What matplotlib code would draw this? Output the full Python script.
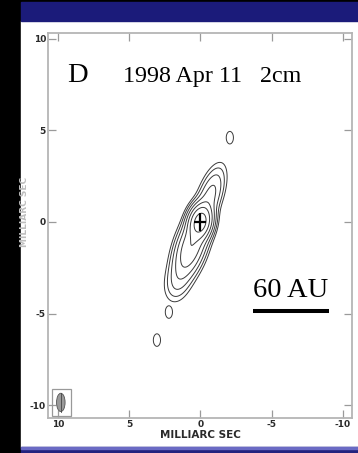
import numpy as np
import matplotlib.pyplot as plt
from matplotlib.patches import Rectangle, Ellipse

W, H = 358, 453

# jet model for the 2 cm map (offsets in mas, peaks relative to the core)
JET_PA_DEG = 26.0
COMP_X = [0.0, 0.66, 1.58, -0.66]
COMP_Y = [0.0, -1.35, -3.24, 1.35]
COMP_PEAK = [1.0, 0.35, 0.04, 0.12]
COMP_MAJ = [0.5, 1.0, 0.7, 0.95]
COMP_MIN = [0.40, 0.50, 0.50, 0.42]

# faint isolated knots
KNOT_X = [-2.07, 2.21, 3.05]
KNOT_Y = [4.59, -4.92, -6.45]
KNOT_PEAK = [0.015, 0.015, 0.015]
KNOT_SX = [0.28, 0.28, 0.28]
KNOT_SY = [0.38, 0.38, 0.38]

LEVELS = [0.01, 0.02, 0.04, 0.08, 0.16, 0.32, 0.64]
TICKS = [10, 5, 0, -5, -10]

BEAM_XY = (9.8, -9.85)
BEAM_W, BEAM_H = 0.6, 1.0
SCALE_BAR = (-3.68, -9.02, -4.86)   # x0, x1, y
SCALE_TEXT = "60 AU"


def px(x, y):
    """pixel (from top-left) -> figure fraction"""
    return x / W, 1 - y / H


fig = plt.figure(figsize=(W / 100, H / 100), dpi=100, facecolor="black")

# slide background: white panel, navy header, strip at the bottom
fig.add_artist(Rectangle(px(21, 447), (W - 21) / W, (447 - 21) / H,
                         transform=fig.transFigure, color="white", zorder=0))
fig.add_artist(Rectangle(px(21, 21), (W - 21) / W, 19 / H,
                         transform=fig.transFigure, color="#1b1b7a", zorder=0))
fig.add_artist(Rectangle(px(21, H), (W - 21) / W, 6 / H,
                         transform=fig.transFigure, color="#22227e", zorder=0))
fig.add_artist(Rectangle(px(21, 449), (W - 21) / W, 2 / H,
                         transform=fig.transFigure, color="#6a6ac4", zorder=0))

x0, y1 = px(48, 33)
x1, y0 = px(352, 418)
ax = fig.add_axes([x0, y0, x1 - x0, y1 - y0])
ax.set_facecolor("white")
ax.set_xlim(10.7, -10.65)
ax.set_ylim(-10.7, 10.3)

# brightness model
gx = np.linspace(-10.7, 10.7, 500)
gy = np.linspace(-10.7, 10.3, 500)
X, Y = np.meshgrid(gx, gy)
pa = np.deg2rad(JET_PA_DEG)
ux, uy = -np.sin(pa), np.cos(pa)
main = np.zeros_like(X)
for cx, cy, pk, smaj, smin in zip(COMP_X, COMP_Y, COMP_PEAK, COMP_MAJ, COMP_MIN):
    dx, dy = X - cx, Y - cy
    s = dx * ux + dy * uy
    t = dx * uy - dy * ux
    main += pk * np.exp(-0.5 * ((s / smaj) ** 2 + (t / smin) ** 2))
main /= main.max()
knots = np.zeros_like(X)
for cx, cy, pk, sx, sy in zip(KNOT_X, KNOT_Y, KNOT_PEAK, KNOT_SX, KNOT_SY):
    knots += pk * np.exp(-0.5 * (((X - cx) / sx) ** 2 + ((Y - cy) / sy) ** 2))
img = np.maximum(main, knots)

ax.contour(X, Y, img, levels=LEVELS, colors="#3a3a3a", linewidths=0.7)

# core position
ax.errorbar([0], [0], xerr=0.42, yerr=0.49, fmt="none", ecolor="black",
            elinewidth=1.6, capsize=0, zorder=5)

# restoring beam
ax.add_patch(Rectangle((10.42, -10.6), -1.33, 1.47, fill=False,
                       edgecolor="#999999", lw=0.9, zorder=4))
ax.add_patch(Ellipse(BEAM_XY, BEAM_W, BEAM_H, facecolor="#9a9a9a",
                     edgecolor="#555555", lw=0.6, zorder=5))
ax.plot([BEAM_XY[0], BEAM_XY[0]], [BEAM_XY[1] - BEAM_H / 2, BEAM_XY[1] + BEAM_H / 2],
        color="#444444", lw=0.6, zorder=6)

# scale bar
ax.plot([SCALE_BAR[0], SCALE_BAR[1]], [SCALE_BAR[2], SCALE_BAR[2]],
        color="black", lw=2.9, solid_capstyle="butt")
ax.text((SCALE_BAR[0] + SCALE_BAR[1]) / 2, -4.1, SCALE_TEXT, ha="center",
        va="baseline", fontsize=20.5, family="Liberation Serif")

ax.text(8.6, 7.65, "D", ha="center", va="baseline", fontsize=20.5,
        family="Liberation Serif")
ax.text(5.44, 7.65, "1998 Apr 11   2cm", ha="left", va="baseline",
        fontsize=17.3, family="Liberation Serif")

ax.set_xticks(TICKS)
ax.set_yticks(TICKS)
ax.set_xticklabels([str(t) for t in TICKS])
ax.set_yticklabels([str(t) for t in TICKS])
ax.tick_params(direction="in", length=5.8, width=0.9, color="#9a9a9a",
               top=True, right=True, labelsize=6.5, labelcolor="#2a2a2a", pad=1.5)
for lab in ax.get_xticklabels() + ax.get_yticklabels():
    lab.set_fontweight("bold")
    lab.set_family(["Liberation Sans Narrow", "DejaVu Sans"])
for sp in ax.spines.values():
    sp.set_color("#b5b5b5")
    sp.set_linewidth(1.3)

ax.set_xlabel("MILLIARC SEC", fontsize=7.5, fontweight="bold", color="#2a2a2a",
              family=["Liberation Sans Narrow", "DejaVu Sans"], labelpad=1)
fig.text(*px(24.5, 212), "MILLIARC SEC", rotation=90, ha="center", va="center",
         fontsize=6.5, color="#bdbdbd", fontweight="bold",
         family=["Liberation Sans Narrow", "DejaVu Sans"])

fig.savefig("out.png", dpi=100, facecolor=fig.get_facecolor())
